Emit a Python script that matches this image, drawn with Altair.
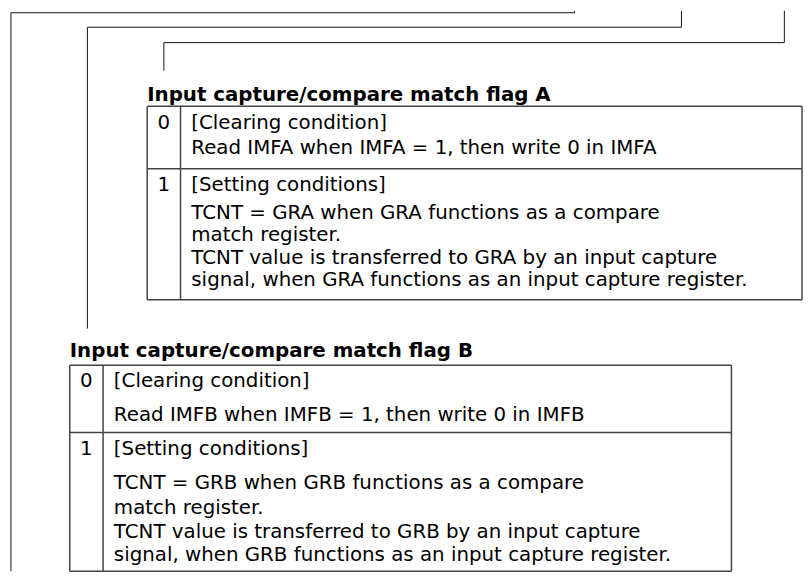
import altair as alt
import pandas as pd

# ---------------- content ----------------
titles = ["Input capture/compare match flag A", "Input capture/compare match flag B"]
bits = ["0", "1"]
rows_a = [
    ["[Clearing condition]", "Read IMFA when IMFA = 1, then write 0 in IMFA"],
    ["[Setting conditions]",
     "TCNT = GRA when GRA functions as a compare",
     "match register.",
     "TCNT value is transferred to GRA by an input capture",
     "signal, when GRA functions as an input capture register."],
]
rows_b = [
    ["[Clearing condition]", "Read IMFB when IMFB = 1, then write 0 in IMFB"],
    ["[Setting conditions]",
     "TCNT = GRB when GRB functions as a compare",
     "match register.",
     "TCNT value is transferred to GRB by an input capture",
     "signal, when GRB functions as an input capture register."],
]

# ---------------- layout (diagram units) ----------------
W_UNITS, H_UNITS = 811, 585
# connector polylines
connectors = [
    [(578, 0), (578, 2), (3, 2), (3, 582)],
    [(687, 0), (687, 17), (81, 17), (81, 330)],
    [(792, 0), (792, 33), (159, 33), (159, 62)],
]
# tables: left, divider, right, top, separator, bottom, title y
tables = [
    dict(left=142, div=176, right=810, top=99, sep=164, bottom=300, title_y=87,
         line_y=[[117, 143], [181, 210, 233, 257, 280]], rows=rows_a),
    dict(left=63, div=97, right=738, top=368, sep=438, bottom=582, title_y=353,
         line_y=[[384, 420], [455, 490, 516, 541, 565]], rows=rows_b),
]

conn_rows = []
for poly in connectors:
    for (x1, y1), (x2, y2) in zip(poly[:-1], poly[1:]):
        conn_rows.append(dict(x=x1, y=y1, x2=x2, y2=y2))
conn_df = pd.DataFrame(conn_rows)

border_rows, title_rows, bit_rows, body_rows = [], [], [], []
for t, title in zip(tables, titles):
    L, D, R, T, S, B = t["left"], t["div"], t["right"], t["top"], t["sep"], t["bottom"]
    for seg in [(L, T, R, T), (L, S, R, S), (L, B, R, B), (L, T, L, B), (D, T, D, B), (R, T, R, B)]:
        border_rows.append(dict(x=seg[0], y=seg[1], x2=seg[2], y2=seg[3]))
    title_rows.append(dict(x=L, y=t["title_y"], text=title))
    for bit, lines, ys in zip(bits, t["rows"], t["line_y"]):
        bit_rows.append(dict(x=(L + D) / 2, y=ys[0], text=bit))
        for line, yy in zip(lines, ys):
            body_rows.append(dict(x=D + 11, y=yy, text=line))

border_df = pd.DataFrame(border_rows)
title_df = pd.DataFrame(title_rows)
bit_df = pd.DataFrame(bit_rows)
body_df = pd.DataFrame(body_rows)

xs = alt.Scale(domain=[0, W_UNITS], nice=False, zero=False)
ys = alt.Scale(domain=[0, H_UNITS], nice=False, zero=False, reverse=True)
X = alt.X("x:Q", scale=xs, axis=None)
Y = alt.Y("y:Q", scale=ys, axis=None)

FONT = "DejaVu Sans"

conn = alt.Chart(conn_df).mark_rule(color="#111111", strokeWidth=1).encode(
    x=X, y=Y, x2="x2:Q", y2="y2:Q")
border = alt.Chart(border_df).mark_rule(color="#444444", strokeWidth=1.5).encode(
    x=X, y=Y, x2="x2:Q", y2="y2:Q")
title_txt = alt.Chart(title_df).mark_text(
    align="left", baseline="middle", font=FONT, fontSize=20, fontWeight="bold", color="#000000"
).encode(x=X, y=Y, text="text:N")
bit_txt = alt.Chart(bit_df).mark_text(
    align="center", baseline="middle", font=FONT, fontSize=20, color="#000000"
).encode(x=X, y=Y, text="text:N")
body_txt = alt.Chart(body_df).mark_text(
    align="left", baseline="middle", font=FONT, fontSize=20, color="#000000"
).encode(x=X, y=Y, text="text:N")

chart = alt.layer(conn, border, title_txt, bit_txt, body_txt).properties(
    width=803, height=569, padding=0,
    autosize=alt.AutoSizeParams(type="none"),
).configure_view(stroke=None)

chart.save("out.html", embed_options={"renderer": "svg", "actions": False})
